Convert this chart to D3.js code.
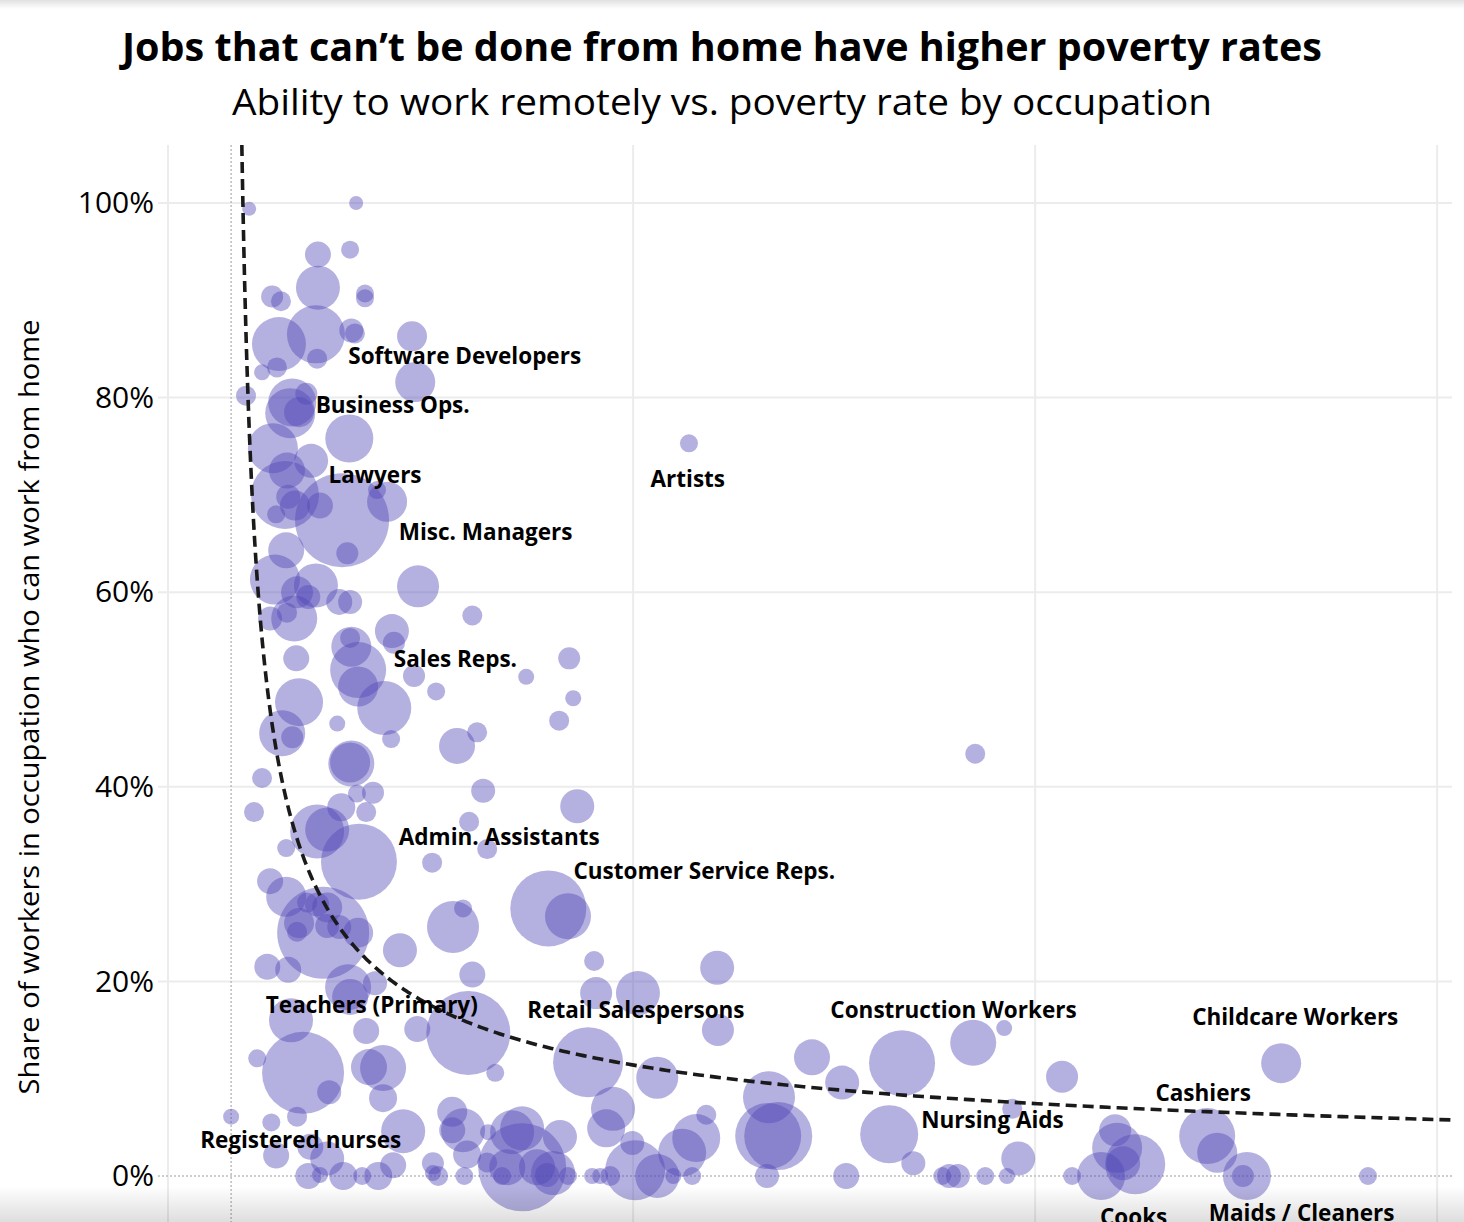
<!DOCTYPE html>
<html>
<head>
<meta charset="utf-8">
<script src="https://cdn.jsdelivr.net/npm/d3@7"></script>
<style>
  html, body { margin: 0; padding: 0; background: #fff; }
  svg { display: block; font-family: "Open Sans", "Noto Sans", sans-serif; }
</style>
</head>
<body>
<svg id="chart" width="1464" height="1222"></svg>
<script>
// ---------------- DATA ----------------
// Poverty rate of occupation (%)
const poverty = [
  0.45, 3.11, 2.16, 2.96, 1.02, 1.24, 2.16, 3.33, 3.33, 1.19,
  2.11, 2.99, 3.08, 4.50, 2.14, 1.14, 0.77, 4.58, 0.37, 1.52,
  1.87, 1.47, 1.69, 2.94, 1.04, 1.99, 1.39, 1.34, 1.42, 1.59,
  2.21, 1.12, 2.76, 3.63, 3.88, 2.89, 1.37, 1.09, 2.11, 1.64,
  1.92, 2.69, 2.96, 4.65, 6.00, 1.57, 0.97, 1.39, 4.00, 4.05,
  2.96, 2.99, 1.62, 3.16, 3.16, 4.55, 5.10, 3.81, 3.98, 1.69,
  1.27, 1.52, 2.64, 2.99, 2.96, 5.62, 6.12, 0.77, 0.57, 3.13,
  3.53, 2.74, 3.36, 6.27, 2.14, 2.39, 1.37, 3.18, 5.00, 0.97,
  1.37, 5.77, 5.52, 1.69, 1.64, 2.14, 2.39, 1.89, 2.39, 2.69,
  3.16, 2.29, 4.20, 0.90, 1.42, 6.00, 2.91, 2.96, 3.58, 1.49,
  3.36, 4.63, 5.90, 0.65, 1.79, 2.44, 3.43, 3.78, 3.78, 0.00,
  1.00, 1.64, 4.28, 5.50, 5.50, 5.77, 5.87, 1.12, 1.97, 2.39,
  1.92, 2.21, 2.79, 3.26, 3.66, 4.03, 5.02, 5.02, 5.15, 5.80,
  8.41, 7.34, 8.51, 8.16, 8.61, 5.92, 6.37, 7.89, 8.38, 9.03,
  12.09, 9.08, 10.12, 12.11, 6.57, 8.88, 10.60, 9.50, 9.33, 13.38,
  13.36, 13.61, 11.82, 11.57, 11.22, 13.33, 7.24, 7.24, 6.99, 8.18,
  6.39, 6.37, 6.87, 6.74, 7.61, 8.01, 7.86, 8.38, 8.98, 9.18,
  9.43, 9.98, 10.05, 10.60, 11.00, 11.47, 11.39, 18.51, 14.45, 15.20,
  16.69, 18.46, 19.23, 20.67, 16.37, 16.97, 19.43, 19.58, 15.30, 17.69,
  17.86, 18.08, 18.76, 19.30, 20.92, 21.64, 26.12, 21.99, 22.04, 22.49,
  22.19, 24.28, 24.53, 25.27, 25.17, 28.28
];
// Share of workers in occupation who can work from home (%)
const remoteShare = [
  99.4, 100.0, 94.7, 95.2, 90.4, 89.9, 91.3, 90.7, 90.2, 85.5,
  86.5, 86.9, 86.6, 86.3, 84.0, 83.1, 82.6, 81.6, 80.2, 79.5,
  80.4, 78.4, 78.5, 75.8, 74.8, 73.5, 72.5, 70.0, 69.8, 68.9,
  68.9, 68.0, 67.4, 70.5, 69.3, 64.0, 64.3, 61.3, 60.7, 60.0,
  59.5, 59.0, 59.0, 60.6, 57.6, 57.3, 57.3, 57.9, 56.0, 54.8,
  55.3, 54.4, 53.2, 52.0, 50.3, 51.4, 49.8, 48.1, 44.9, 48.7,
  45.5, 45.1, 46.5, 42.4, 42.5, 44.2, 45.6, 40.9, 37.4, 39.3,
  39.4, 37.9, 37.4, 39.6, 35.4, 35.6, 33.7, 32.3, 32.2, 30.3,
  28.7, 27.5, 25.6, 26.0, 25.1, 27.9, 27.6, 28.1, 25.7, 25.6,
  25.0, 25.0, 23.2, 21.5, 21.2, 20.7, 19.4, 18.4, 19.8, 16.0,
  14.9, 15.1, 14.7, 12.1, 10.6, 8.6, 11.2, 11.1, 8.0, 6.1,
  5.5, 6.1, 4.6, 6.6, 4.7, 4.7, 2.2, 2.1, 3.0, 1.8,
  0.0, 0.1, 0.0, 0.0, 0.0, 1.1, 1.3, 0.3, 0.0, 0.0,
  53.2, 51.3, 49.1, 46.8, 38.0, 36.4, 33.6, 27.5, 26.7, 22.1,
  21.4, 18.8, 18.8, 15.0, 10.6, 11.7, 10.1, 6.9, 4.9, 8.1,
  4.1, 4.1, 6.3, 3.9, 2.4, 0.0, 0.9, 4.9, 4.5, 4.0,
  4.5, 1.4, 0.9, 0.0, 0.9, 0.3, 0.1, 0.0, 0.0, 0.0,
  0.0, 3.4, 0.6, 0.0, 0.0, 0.0, 75.3, 43.4, 12.2, 9.6,
  11.6, 13.7, 15.2, 10.2, 4.3, 1.3, 6.9, 1.8, 0.0, 0.0,
  0.0, 0.0, 0.0, 0.0, 0.0, 0.0, 11.6, 4.7, 2.9, 1.2,
  1.3, 4.1, 2.4, 0.0, 0.0, 0.0
];
// Employment in occupation (thousands, bubble size)
const employment = [
  49, 49, 169, 81, 121, 100, 484, 81, 81, 729,
  841, 144, 100, 225, 100, 100, 64, 400, 100, 576,
  121, 625, 225, 576, 625, 289, 324, 1156, 144, 225,
  169, 81, 2209, 81, 400, 121, 324, 625, 484, 256,
  144, 169, 144, 441, 100, 529, 144, 100, 289, 121,
  100, 400, 169, 784, 400, 121, 81, 729, 81, 576,
  529, 121, 64, 529, 400, 324, 100, 100, 100, 81,
  121, 196, 100, 144, 729, 484, 81, 1444, 100, 169,
  400, 81, 676, 225, 100, 144, 225, 100, 144, 144,
  225, 2116, 289, 169, 169, 169, 529, 324, 144, 484,
  169, 169, 1764, 81, 1681, 144, 324, 529, 196, 64,
  81, 100, 484, 225, 169, 484, 196, 169, 169, 289,
  169, 64, 196, 81, 196, 169, 121, 64, 100, 81,
  121, 64, 64, 100, 289, 100, 100, 1444, 529, 100,
  289, 256, 484, 256, 81, 1225, 441, 484, 361, 676,
  1089, 1156, 100, 576, 576, 144, 1936, 484, 484, 289,
  64, 100, 324, 81, 324, 484, 144, 81, 64, 64,
  100, 144, 900, 484, 64, 81, 81, 100, 324, 289,
  1089, 529, 64, 256, 841, 144, 100, 289, 169, 81,
  144, 144, 81, 64, 81, 576, 400, 256, 625, 900,
  289, 784, 400, 576, 121, 81
];

// Annotated occupations (label text and the data point at the label centre)
const labelNames = [
  "Software Developers", "Business Ops.", "Lawyers", "Artists", "Misc. Managers",
  "Sales Reps.", "Admin. Assistants", "Customer Service Reps.", "Teachers (Primary)",
  "Retail Salespersons", "Construction Workers", "Childcare Workers", "Cashiers",
  "Nursing Aids", "Registered nurses", "Cooks", "Maids / Cleaners"
];
const labelPoverty = [5.81, 4.02, 3.58, 11.36, 6.33, 5.58, 6.67, 11.77, 3.50,
  10.07, 17.97, 26.47, 24.18, 18.94, 1.73, 22.45, 26.63];
const labelShare = [84.3, 79.3, 72.1, 71.7, 66.2, 53.2, 34.9, 31.4, 17.6,
  17.1, 17.1, 16.4, 8.6, 5.8, 3.7, -4.2, -3.8];

// Axis ticks
const yTicks = [0, 20, 40, 60, 80, 100];
const xTicks = [0, 10, 20, 30];

// Power trend line: share = a * poverty^b
const trendA = 47;
const trendB = -0.615;

// ---------------- CHART ----------------
const W = 1464, H = 1222;
const plot = { left: 168, right: 1452, top: 145, bottom: 1222 };
const svg = d3.select("#chart");

const x = d3.scaleLinear().domain([-1.57, 30.37]).range([plot.left, plot.right]);
const y = d3.scaleLinear().domain([0, 100]).range([1176, 203]);
const r = d3.scaleSqrt().domain([0, 2500]).range([0, 50]);

// Title / subtitle
svg.append("text")
  .attr("x", 722).attr("y", 61)
  .attr("text-anchor", "middle")
  .attr("font-size", 39).attr("font-weight", 700)
  .attr("fill", "#000")
  .attr("textLength", 1200).attr("lengthAdjust", "spacingAndGlyphs")
  .text("Jobs that can’t be done from home have higher poverty rates");

svg.append("text")
  .attr("x", 722).attr("y", 115)
  .attr("text-anchor", "middle")
  .attr("font-size", 36).attr("font-weight", 400)
  .attr("fill", "#000")
  .attr("textLength", 980).attr("lengthAdjust", "spacingAndGlyphs")
  .text("Ability to work remotely vs. poverty rate by occupation");

// Gridlines
const grid = svg.append("g");
grid.selectAll("line.h")
  .data(yTicks.filter(d => d !== 0))
  .join("line")
  .attr("x1", 158).attr("x2", plot.right)
  .attr("y1", d => y(d)).attr("y2", d => y(d))
  .attr("stroke", "#ececec").attr("stroke-width", 2);

grid.append("line")
  .attr("x1", plot.left).attr("x2", plot.left)
  .attr("y1", plot.top).attr("y2", plot.bottom)
  .attr("stroke", "#ececec").attr("stroke-width", 2);

grid.selectAll("line.v")
  .data(xTicks.filter(d => d !== 0))
  .join("line")
  .attr("x1", d => x(d)).attr("x2", d => x(d))
  .attr("y1", plot.top).attr("y2", plot.bottom)
  .attr("stroke", "#ececec").attr("stroke-width", 2);

// zero lines (dotted)
grid.append("line")
  .attr("x1", 158).attr("x2", plot.right)
  .attr("y1", y(0)).attr("y2", y(0))
  .attr("stroke", "#bdbdbd").attr("stroke-width", 1.5)
  .attr("stroke-dasharray", "2,2");
grid.append("line")
  .attr("x1", x(0)).attr("x2", x(0))
  .attr("y1", plot.top).attr("y2", plot.bottom)
  .attr("stroke", "#bdbdbd").attr("stroke-width", 1.5)
  .attr("stroke-dasharray", "2,2");

// Y axis labels
const yAxis = d3.axisLeft(y).tickValues(yTicks).tickFormat(d => d + "%").tickSize(0).tickPadding(0);
const yAxisG = svg.append("g").attr("transform", "translate(154,0)").call(yAxis);
yAxisG.select(".domain").remove();
yAxisG.selectAll("text")
  .attr("font-family", "'Open Sans', sans-serif")
  .attr("font-size", 30)
  .attr("fill", "#000");

// Y axis title
svg.append("text")
  .attr("transform", "translate(39,707) rotate(-90)")
  .attr("text-anchor", "middle")
  .attr("font-size", 27)
  .attr("fill", "#000")
  .attr("textLength", 775).attr("lengthAdjust", "spacingAndGlyphs")
  .text("Share of workers in occupation who can work from home");

// Clip for plot area
svg.append("clipPath").attr("id", "plotClip")
  .append("rect")
  .attr("x", plot.left).attr("y", plot.top)
  .attr("width", plot.right - plot.left).attr("height", plot.bottom - plot.top);

// Bubbles
const data = poverty.map((p, i) => ({ p, s: remoteShare[i], e: employment[i] }));
svg.append("g")
  .attr("clip-path", "url(#plotClip)")
  .selectAll("circle")
  .data(data)
  .join("circle")
  .attr("cx", d => x(d.p))
  .attr("cy", d => y(d.s))
  .attr("r", d => r(d.e))
  .attr("fill", "rgb(80,71,184)")
  .attr("fill-opacity", 0.43);

// Trend line
const pStart = Math.pow(y.invert(plot.top) / trendA, 1 / trendB);
const trendPts = d3.range(0, 401).map(i => {
  const t = i / 400;
  const p = pStart * Math.pow(x.domain()[1] / pStart, t);
  return [p, trendA * Math.pow(p, trendB)];
});
svg.append("path")
  .attr("clip-path", "url(#plotClip)")
  .datum(trendPts)
  .attr("d", d3.line().x(d => x(d[0])).y(d => y(d[1])))
  .attr("fill", "none")
  .attr("stroke", "#1a1a1a")
  .attr("stroke-width", 3.6)
  .attr("stroke-dasharray", "11,6");

// Labels
svg.append("g")
  .selectAll("text")
  .data(labelNames.map((t, i) => ({ t, p: labelPoverty[i], s: labelShare[i] })))
  .join("text")
  .attr("x", d => x(d.p))
  .attr("y", d => y(d.s))
  .attr("text-anchor", "middle")
  .attr("dominant-baseline", "central")
  .attr("font-size", 22.5)
  .attr("font-weight", 700)
  .attr("fill", "#000")
  .text(d => d.t);

// Page shadows (top and bottom edge)
const defs = svg.append("defs");
const gb = defs.append("linearGradient").attr("id", "shadeBottom").attr("x1", 0).attr("x2", 0).attr("y1", 0).attr("y2", 1);
gb.append("stop").attr("offset", "0%").attr("stop-color", "#000").attr("stop-opacity", 0);
gb.append("stop").attr("offset", "100%").attr("stop-color", "#000").attr("stop-opacity", 0.13);
const gt = defs.append("linearGradient").attr("id", "shadeTop").attr("x1", 0).attr("x2", 0).attr("y1", 0).attr("y2", 1);
gt.append("stop").attr("offset", "0%").attr("stop-color", "#000").attr("stop-opacity", 0.12);
gt.append("stop").attr("offset", "100%").attr("stop-color", "#000").attr("stop-opacity", 0);
svg.append("rect").attr("x", 0).attr("y", 1186).attr("width", W).attr("height", 36).attr("fill", "url(#shadeBottom)");
svg.append("rect").attr("x", 0).attr("y", 0).attr("width", W).attr("height", 9).attr("fill", "url(#shadeTop)");
</script>
</body>
</html>
